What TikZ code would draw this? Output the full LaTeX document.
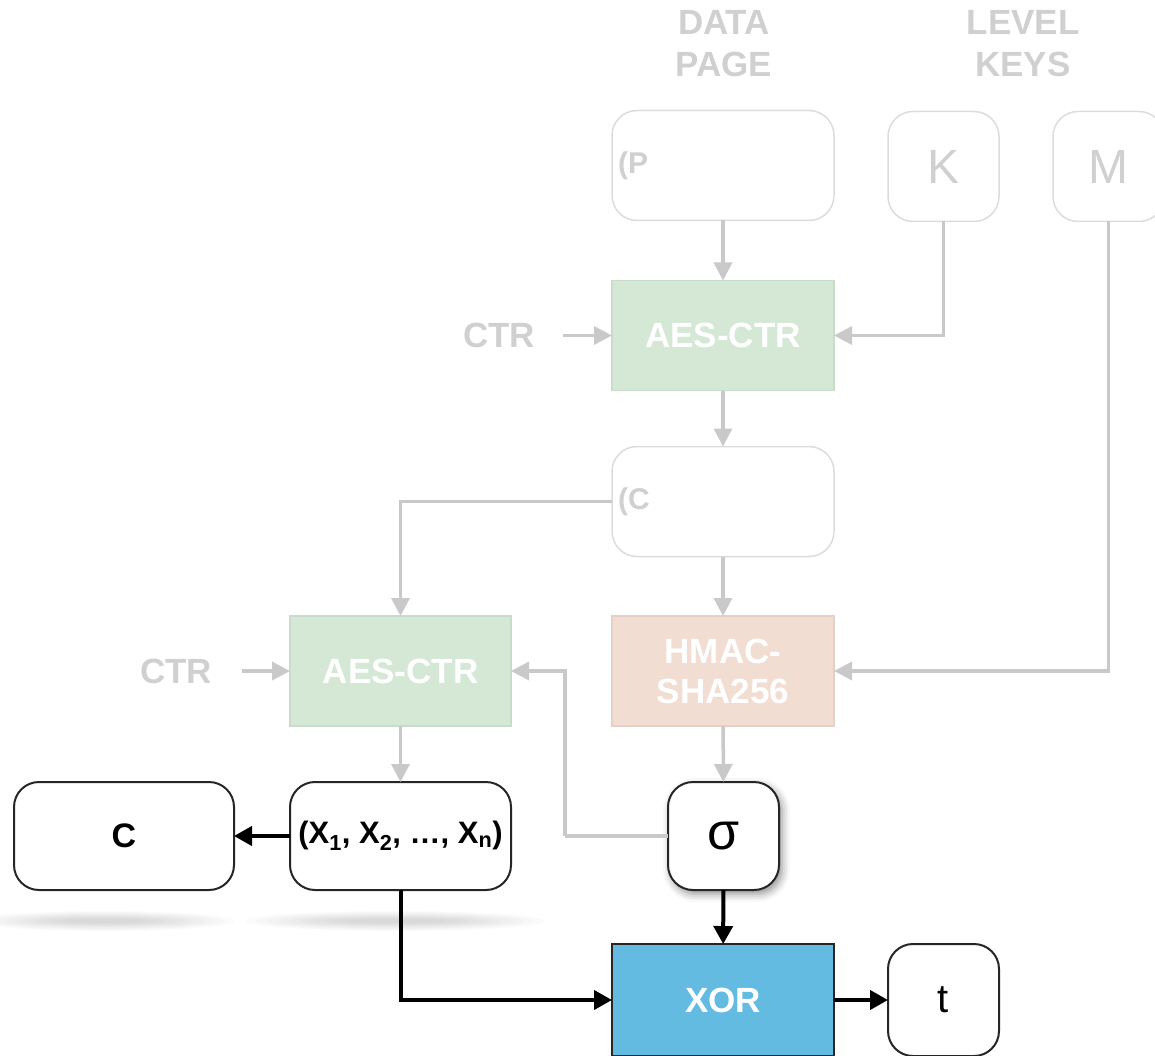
\documentclass[tikz,border=0pt]{standalone}
\usepackage{fontspec}
\setmainfont{Liberation Sans}
\usetikzlibrary{arrows.meta,shadows.blur}
\definecolor{fline}{HTML}{C9C9C9}
\definecolor{ftext}{HTML}{D0D0D0}
\definecolor{fbord}{HTML}{DCDCDC}
\definecolor{aesfill}{HTML}{D5E8D6}
\definecolor{aesdraw}{HTML}{C8DCC9}
\definecolor{hmacfill}{HTML}{F2DDD3}
\definecolor{hmacdraw}{HTML}{E4D0C6}
\definecolor{xorfill}{HTML}{63BBE2}
\newcommand{\subr}[1]{\textsubscript{#1}}
\begin{document}
\begin{tikzpicture}[x=1pt,y=-1pt,
  every node/.style={inner sep=0pt, outer sep=0pt},
  fbox/.style={draw=fbord, line width=1.5pt, rounded corners=25pt, fill=white, text=ftext},
  bbox/.style={draw=black!85, line width=2pt, rounded corners=25pt, fill=white, text=black},
  block/.style={line width=1.5pt, text=white, align=center, font=\fontsize{35}{40}\selectfont\bfseries},
  wide/.style={minimum width=222pt, minimum height=110pt},
  narrow/.style={minimum width=111pt, minimum height=110pt},
  ttext/.style={text=ftext, font=\fontsize{35}{42}\selectfont\bfseries, align=center},
  garrow/.style={draw=fline, line width=3.5pt, -{Triangle[length=18pt,width=18pt]}},
  gline/.style={draw=fline, line width=3.5pt},
  barrow/.style={draw=black, line width=4pt, -{Triangle[length=18pt,width=19pt]}},
  blabel/.style={font=\fontsize{31}{34}\selectfont\bfseries},
  clabel/.style={font=\fontsize{34}{36}\selectfont\bfseries},
  flabel/.style={text width=210pt, align=left, font=\fontsize{30}{32}\selectfont\bfseries},
]
\useasboundingbox (0,0) rectangle (1155,1056);

% soft shadow band under the lower-left boxes
\foreach \i in {1,...,10}{
  \fill[black, opacity=0.016] (105,921) ellipse ({30+100*\i/10} and {1+0.9*\i});
  \fill[black, opacity=0.016] (395,921) ellipse ({40+110*\i/10} and {1+0.9*\i});
}

% headings
\node[ttext] (dp) at (724,44) {DATA\\PAGE};
\node[ttext] (lk) at (1023,44) {LEVEL\\KEYS};

% top inputs
\node[fbox, wide, flabel] (P) at (723,165.5) {\raisebox{-3pt}{(P}};
\node[fbox, narrow, font=\fontsize{48}{50}\selectfont] (K) at (943.5,166.5) {K};
\node[fbox, narrow, font=\fontsize{48}{50}\selectfont] (M) at (1108.5,166.5) {M};

% first AES
\node[block, wide, draw=aesdraw, fill=aesfill] (aes1) at (723,335.5) {AES-CTR};
\node[ttext] (ctr1) at (499,335.5) {CTR};

% ciphertext box
\node[fbox, wide, flabel] (CB) at (723,501.5) {\raisebox{-3pt}{(C}};

% second AES and HMAC
\node[block, wide, minimum width=221pt, draw=aesdraw, fill=aesfill] (aes2) at (400.5,671) {AES-CTR};
\node[ttext] (ctr2) at (176,671) {CTR};
\node[block, wide, draw=hmacdraw, fill=hmacfill] (hmac) at (723,671) {HMAC-\\SHA256};

% bottom row
\node[bbox, narrow, minimum height=108pt, font=\fontsize{52}{54}\selectfont,
      blur shadow={shadow xshift=3pt, shadow yshift=-4pt, shadow blur radius=8pt, shadow opacity=45}]
      (sig) at (723.5,836) {σ};
\node[bbox, wide, minimum width=221pt, minimum height=108pt, blabel] (X) at (400.5,836)
  {(X\subr{1}, X\subr{2}, …, X\subr{n})};
\node[bbox, wide, minimum width=220pt, minimum height=108pt, clabel] (C) at (124,836) {C};
\node[block, wide, minimum height=112pt, draw=black!85, line width=2pt, fill=xorfill] (xor) at (723,1000) {XOR};
\node[bbox, narrow, minimum height=112pt, font=\fontsize{40}{42}\selectfont] (t) at (943.5,1000) {t};

% faded connectors
\draw[garrow] (P) -- (aes1);
\draw[garrow, shorten <=28pt] (ctr1.east) -- (aes1.west);
\draw[garrow] (K.south) |- (aes1.east);
\draw[garrow] (aes1) -- (CB);
\draw[garrow] (CB) -- (hmac);
\draw[garrow] (CB.west) -| (aes2.north);
\draw[garrow, shorten <=30pt] (ctr2.east) -- (aes2.west);
\draw[garrow] (M.south) |- (hmac.east);
\draw[garrow] (hmac) -- (sig);
\draw[garrow] (aes2) -- (X);
\coordinate (bend) at (565,836);
\draw[gline] (sig.west) -- (bend);
\draw[garrow] (bend) |- (aes2.east);

% dark connectors
\draw[barrow] (X) -- (C);
\draw[barrow] (X.south) |- (xor.west);
\draw[barrow] (sig) -- (xor);
\draw[barrow] (xor) -- (t);
\end{tikzpicture}
\end{document}
